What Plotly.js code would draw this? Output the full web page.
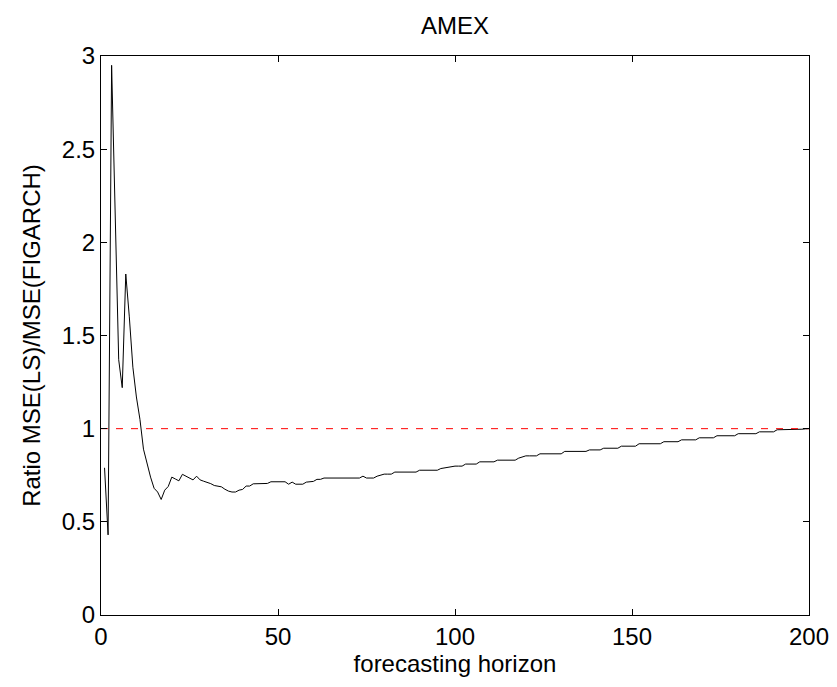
<!DOCTYPE html>
<html>
<head>
<meta charset="utf-8">
<script src="https://cdn.plot.ly/plotly-3.0.1.min.js"></script>
<style>html,body{margin:0;padding:0;background:#fff;}#chart{width:837px;height:687px;}</style>
</head>
<body>
<div id="chart"></div>
<script>
// forecasting horizon 1..200
const horizon = [];
for (let h = 1; h <= 200; h++) horizon.push(h);

// Ratio MSE(LS)/MSE(FIGARCH)
const ratio = [
  0.79, 0.43, 2.95, 2.10, 1.37, 1.22, 1.83, 1.60, 1.33, 1.17,
  1.05, 0.89, 0.81, 0.74, 0.68, 0.66, 0.62, 0.67, 0.69, 0.74,
  0.73, 0.72, 0.755, 0.745, 0.735, 0.725, 0.745, 0.725, 0.718, 0.713,
  0.705, 0.695, 0.69, 0.688, 0.675, 0.665, 0.66, 0.66, 0.67, 0.674,
  0.692, 0.692, 0.704, 0.704, 0.705, 0.706, 0.706, 0.715, 0.715, 0.715,
  0.715, 0.715, 0.702, 0.713, 0.702, 0.702, 0.702, 0.713, 0.715, 0.717,
  0.728, 0.728, 0.735, 0.735, 0.735, 0.735, 0.735, 0.735, 0.735, 0.735,
  0.735, 0.735, 0.735, 0.745, 0.735, 0.735, 0.735, 0.745, 0.75, 0.756,
  0.756, 0.756, 0.767, 0.767, 0.767, 0.767, 0.767, 0.767, 0.767, 0.777,
  0.777, 0.777, 0.777, 0.777, 0.777, 0.786, 0.79, 0.792, 0.799, 0.799,
  0.799, 0.799, 0.81, 0.81, 0.81, 0.81, 0.822, 0.822, 0.822, 0.822,
  0.822, 0.831, 0.831, 0.831, 0.831, 0.831, 0.831, 0.842, 0.849, 0.854,
  0.854, 0.854, 0.854, 0.865, 0.865, 0.865, 0.865, 0.865, 0.865, 0.865,
  0.878, 0.878, 0.878, 0.878, 0.878, 0.878, 0.878, 0.886, 0.886, 0.886,
  0.886, 0.895, 0.895, 0.895, 0.895, 0.895, 0.906, 0.906, 0.906, 0.906,
  0.906, 0.919, 0.919, 0.919, 0.919, 0.919, 0.919, 0.919, 0.93, 0.93,
  0.93, 0.93, 0.93, 0.94, 0.94, 0.94, 0.94, 0.94, 0.951, 0.951,
  0.951, 0.951, 0.951, 0.962, 0.962, 0.962, 0.962, 0.962, 0.962, 0.973,
  0.973, 0.973, 0.973, 0.973, 0.973, 0.983, 0.983, 0.983, 0.983, 0.983,
  0.994, 0.994, 0.994, 0.994, 0.994, 0.995, 0.996, 0.997, 0.999, 1.0
];

const refX = [0, 200];
const refY = [1, 1];

const xTicks = [0, 50, 100, 150, 200];
const yTicks = [0, 0.5, 1, 1.5, 2, 2.5, 3];
const yTickText = ['0', '0.5', '1', '1.5', '2', '2.5', '3'];

const FONT = 'Liberation Sans, Arial, Helvetica, sans-serif';
const FS_TICK = 24;
const FS_LABEL = 24;

const traces = [
  {
    x: horizon, y: ratio, type: 'scatter', mode: 'lines',
    line: {color: '#000000', width: 1}, hoverinfo: 'skip', showlegend: false
  },
  {
    x: refX, y: refY, type: 'scatter', mode: 'lines',
    line: {color: '#ff0000', width: 1, dash: '7px,8px'}, hoverinfo: 'skip', showlegend: false
  }
];

const axisCommon = {
  showgrid: false, zeroline: false, showline: true, linecolor: '#000', linewidth: 1,
  mirror: 'ticks', ticks: 'inside', ticklen: 6, tickwidth: 1, tickcolor: '#000',
  tickfont: {family: FONT, size: FS_TICK, color: '#000'}
};

const layout = {
  width: 837, height: 687,
  margin: {l: 101, r: 28, t: 56, b: 72},
  paper_bgcolor: '#ffffff', plot_bgcolor: '#ffffff',
  title: {text: 'AMEX', font: {family: FONT, size: FS_LABEL, color: '#000'}, x: 0.5435, xanchor: 'center', y: 0.963, yanchor: 'middle'},
  xaxis: Object.assign({}, axisCommon, {
    range: [0, 200], tickmode: 'array', tickvals: xTicks,
    title: {text: 'forecasting horizon', font: {family: FONT, size: FS_LABEL, color: '#000'}, standoff: 0}
  }),
  yaxis: Object.assign({}, axisCommon, {
    range: [0, 3], tickmode: 'array', tickvals: yTicks, ticktext: yTickText,
    title: {text: 'Ratio MSE(LS)/MSE(FIGARCH)', font: {family: FONT, size: FS_LABEL, color: '#000'}, standoff: 14}
  }),
  showlegend: false
};

Plotly.newPlot('chart', traces, layout, {displayModeBar: false, staticPlot: true});
</script>
</body>
</html>
